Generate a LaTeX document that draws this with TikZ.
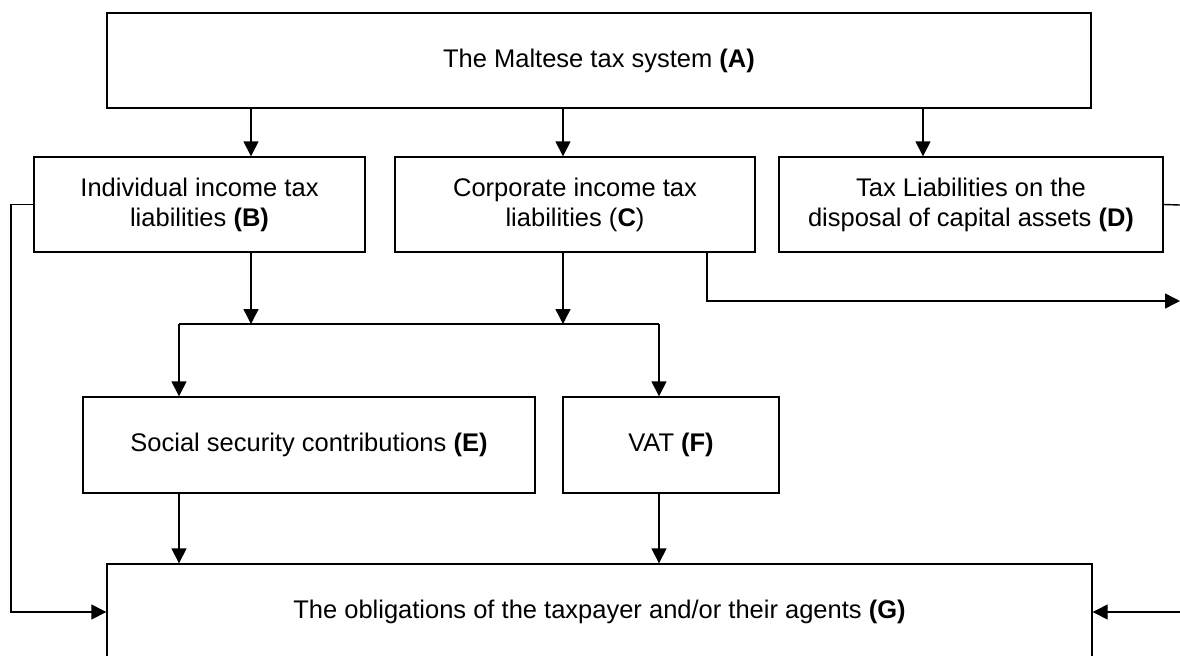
\documentclass[tikz,border=0pt]{standalone}
\usepackage{fontspec}
\setmainfont{Liberation Sans}
\usetikzlibrary{arrows.meta}

\tikzset{
  box/.style={draw, line width=0.7pt, inner sep=0pt, align=center,
    font=\fontsize{12.75}{15}\selectfont},
  line/.style={line width=0.7pt},
  link/.style={line width=0.7pt, -{Triangle[length=7.5pt,width=7.5pt]}},
}

\begin{document}
\begin{tikzpicture}[x=0.5pt,y=-0.5pt]
	\useasboundingbox (0,0) rectangle (1180,655);
	% the boxes
	\node[box, minimum width=492pt, minimum height=47.5pt] (A) at (599,60.5) {The Maltese tax system \textbf{(A)}};
	\node[box, minimum width=165.5pt, minimum height=47.5pt] (B) at (199.5,204.5) {Individual income tax\\liabilities \textbf{(B)}};
	\node[box, minimum width=180pt, minimum height=47.5pt] (C) at (575,204.5) {Corporate income tax\\liabilities (\textbf{C})};
	\node[box, minimum width=192pt, minimum height=47.5pt] (D) at (971,204.5) {Tax Liabilities on the\\disposal of capital assets \textbf{(D)}};
	\node[box, minimum width=226pt, minimum height=48pt] (E) at (309,445) {Social security contributions \textbf{(E)}};
	\node[box, minimum width=108pt, minimum height=48pt] (F) at (671,445) {VAT \textbf{(F)}};
	\node[box, minimum width=492.5pt, minimum height=48pt] (G) at (599.5,612) {The obligations of the taxpayer and/or their agents \textbf{(G)}};
	% junctions and free ends
	\coordinate (jl) at (179,324);
	\coordinate (jr) at (659,324);
	\coordinate (side) at (11,0);
	\coordinate (bend) at (707,301);
	\coordinate (outC) at (1180,301);
	\coordinate (outD) at (1180,205);
	\coordinate (inG) at (1180,612);
	% from A down
	\draw[link] (A.south -| 251,0) -- (B.north -| 251,0);
	\draw[link] (A.south -| 563,0) -- (C.north -| 563,0);
	\draw[link] (A.south -| 923,0) -- (D.north -| 923,0);
	% B and C into the bar
	\draw[link] (B.south -| 251,0) -- (jl -| 251,0);
	\draw[link] (C.south -| 563,0) -- (jl -| 563,0);
	\draw[line] (jl) -- (jr);
	\draw[link] (jl) -- (E.north -| jl);
	\draw[link] (jr) -- (F.north -| jr);
	% E and F into G
	\draw[link] (E.south -| jl) -- (G.north -| jl);
	\draw[link] (F.south -| jr) -- (G.north -| jr);
	% the side lines
	\draw[link] (B.west) -- (B.west -| side) -- (G.west -| side) -- (G.west);
	\draw[link] (C.south -| bend) -- (bend) -- (outC);
	\draw[line] (D.east) -- (outD);
	\draw[link] (inG) -- (G.east);
\end{tikzpicture}
\end{document}
